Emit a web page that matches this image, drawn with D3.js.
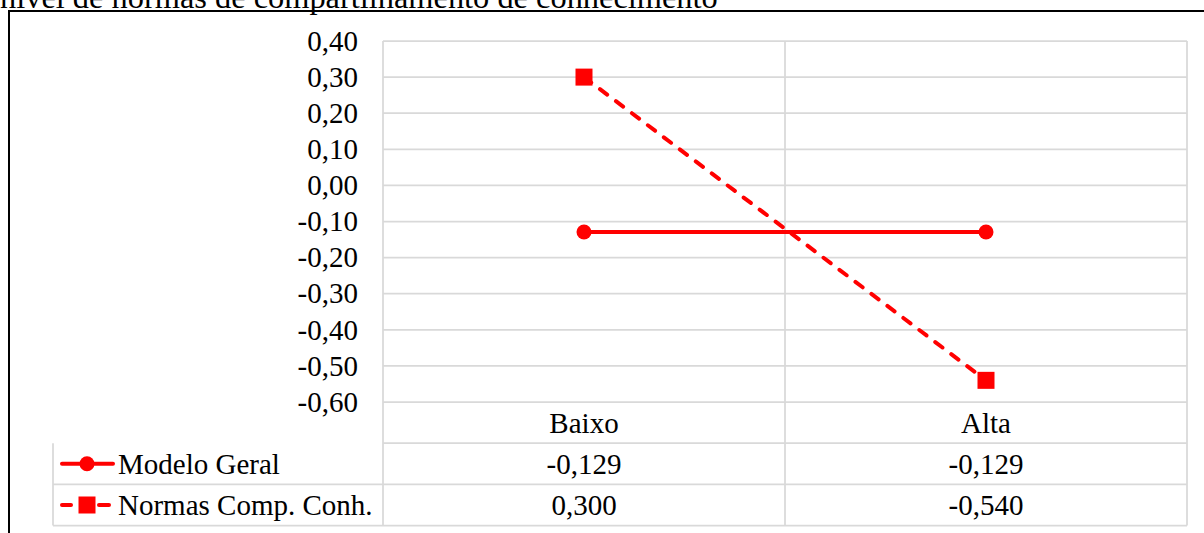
<!DOCTYPE html>
<html>
<head>
<meta charset="utf-8">
<script src="https://cdn.jsdelivr.net/npm/d3@7"></script>
<style>
  html, body { margin: 0; padding: 0; background: #fff; }
  svg { display: block; }
  text { font-family: "Liberation Serif", "Times New Roman", serif; fill: #000; }
</style>
</head>
<body>
<svg id="chart" width="1204" height="533"></svg>
<script>
// Data
const categories = ["Baixo", "Alta"];
const seriesNames = ["Modelo Geral", "Normas Comp. Conh."];
const modeloGeral = [-0.129, -0.129];
const normasComp = [0.300, -0.540];
const yTicks = [0.40, 0.30, 0.20, 0.10, 0.00, -0.10, -0.20, -0.30, -0.40, -0.50, -0.60];
const titleText = "nível de normas de compartilhamento de conhecimento";

const series = [
  { name: seriesNames[0], values: modeloGeral, dashed: false, marker: "circle" },
  { name: seriesNames[1], values: normasComp, dashed: true, marker: "square" }
];

const svg = d3.select("#chart");
const W = 1204, H = 533;
const plot = { left: 383, right: 1187, top: 41, bottom: 402 };
const rowH = 41.2;
const legendLeft = 53;
const red = "#ff0000";
const grid = "#d9d9d9";
const fontSize = 29;

const x = d3.scaleBand().domain(categories).range([plot.left, plot.right]).padding(0);
const y = d3.scaleLinear().domain([-0.6, 0.4]).range([plot.bottom, plot.top]);
const fmtTick = v => d3.format(".2f")(v).replace(".", ",").replace("−", "-");
const fmtVal = v => d3.format(".3f")(v).replace(".", ",").replace("−", "-");

// Frame around the figure
svg.append("path")
  .attr("d", `M9,${H + 2} L9,11 L${W + 2},11`)
  .attr("fill", "none").attr("stroke", "#000").attr("stroke-width", 2);

// Caption line running above the frame
svg.append("text")
  .attr("x", 0).attr("y", 7.5)
  .attr("font-size", 32.4)
  .text(titleText);

// Horizontal gridlines
svg.append("g")
  .selectAll("line")
  .data(yTicks)
  .join("line")
  .attr("x1", plot.left).attr("x2", plot.right)
  .attr("y1", d => y(d)).attr("y2", d => y(d))
  .attr("stroke", grid).attr("stroke-width", 1.75);

// Y axis labels
const yAxis = d3.axisLeft(y).tickValues(yTicks).tickSize(0).tickPadding(25).tickFormat(fmtTick);
const gy = svg.append("g").attr("transform", `translate(${plot.left},0)`).call(yAxis);
gy.select(".domain").remove();
gy.selectAll("text")
  .attr("font-size", fontSize)
  .attr("font-family", "Liberation Serif, Times New Roman, serif")
  .attr("fill", "#000");

// Data table grid
const tableBottom = plot.bottom + rowH * 3;
const vx = [plot.left, x(categories[1]), plot.right];
svg.append("g").selectAll("line")
  .data(vx)
  .join("line")
  .attr("x1", d => d).attr("x2", d => d)
  .attr("y1", plot.top).attr("y2", tableBottom)
  .attr("stroke", grid).attr("stroke-width", 1.75);
// row separators
[1, 2, 3].forEach(i => {
  svg.append("line")
    .attr("x1", i === 1 ? plot.left : legendLeft).attr("x2", plot.right)
    .attr("y1", plot.bottom + rowH * i).attr("y2", plot.bottom + rowH * i)
    .attr("stroke", grid).attr("stroke-width", 1.75);
});
svg.append("line")
  .attr("x1", legendLeft).attr("x2", legendLeft)
  .attr("y1", plot.bottom + rowH).attr("y2", tableBottom)
  .attr("stroke", grid).attr("stroke-width", 1.75);

// Category labels
svg.append("g").selectAll("text")
  .data(categories)
  .join("text")
  .attr("x", d => x(d) + x.bandwidth() / 2)
  .attr("y", plot.bottom + rowH / 2 + 10)
  .attr("text-anchor", "middle")
  .attr("font-size", fontSize)
  .text(d => d);

// Value rows with legend keys
series.forEach((s, si) => {
  const rowTop = plot.bottom + rowH * (si + 1);
  svg.append("g").selectAll("text")
    .data(s.values)
    .join("text")
    .attr("x", (d, i) => x(categories[i]) + x.bandwidth() / 2)
    .attr("y", rowTop + rowH / 2 + 10)
    .attr("text-anchor", "middle")
    .attr("font-size", fontSize)
    .text(d => fmtVal(d));

  const cy = rowTop + rowH / 2;
  const kc = 87;
  if (s.dashed) {
    [[62, 71], [99, 109]].forEach(([a, b]) => {
      svg.append("line").attr("x1", a).attr("x2", b).attr("y1", cy).attr("y2", cy)
        .attr("stroke", red).attr("stroke-width", 4).attr("stroke-linecap", "round");
    });
    svg.append("rect").attr("x", kc - 8.5).attr("y", cy - 8.5).attr("width", 17).attr("height", 17).attr("fill", red);
  } else {
    svg.append("line").attr("x1", 62).attr("x2", 113).attr("y1", cy).attr("y2", cy)
      .attr("stroke", red).attr("stroke-width", 4).attr("stroke-linecap", "round");
    svg.append("circle").attr("cx", kc).attr("cy", cy).attr("r", 7.5).attr("fill", red);
  }
  svg.append("text")
    .attr("x", 118).attr("y", cy + 10)
    .attr("font-size", fontSize)
    .text(s.name);
});

// Series lines and markers
const line = d3.line()
  .x((d, i) => x(categories[i]) + x.bandwidth() / 2)
  .y(d => y(d));

series.forEach(s => {
  svg.append("path")
    .datum(s.values)
    .attr("d", line)
    .attr("fill", "none")
    .attr("stroke", red)
    .attr("stroke-width", 4)
    .attr("stroke-linecap", "round")
    .attr("stroke-dasharray", s.dashed ? "9,11" : null);

  const pts = svg.append("g").selectAll(".m")
    .data(s.values)
    .join(s.marker === "circle" ? "circle" : "rect")
    .attr("fill", red);
  if (s.marker === "circle") {
    pts.attr("cx", (d, i) => x(categories[i]) + x.bandwidth() / 2)
       .attr("cy", d => y(d))
       .attr("r", 7.5);
  } else {
    pts.attr("x", (d, i) => x(categories[i]) + x.bandwidth() / 2 - 8.5)
       .attr("y", d => y(d) - 8.5)
       .attr("width", 17).attr("height", 17);
  }
});
</script>
</body>
</html>
